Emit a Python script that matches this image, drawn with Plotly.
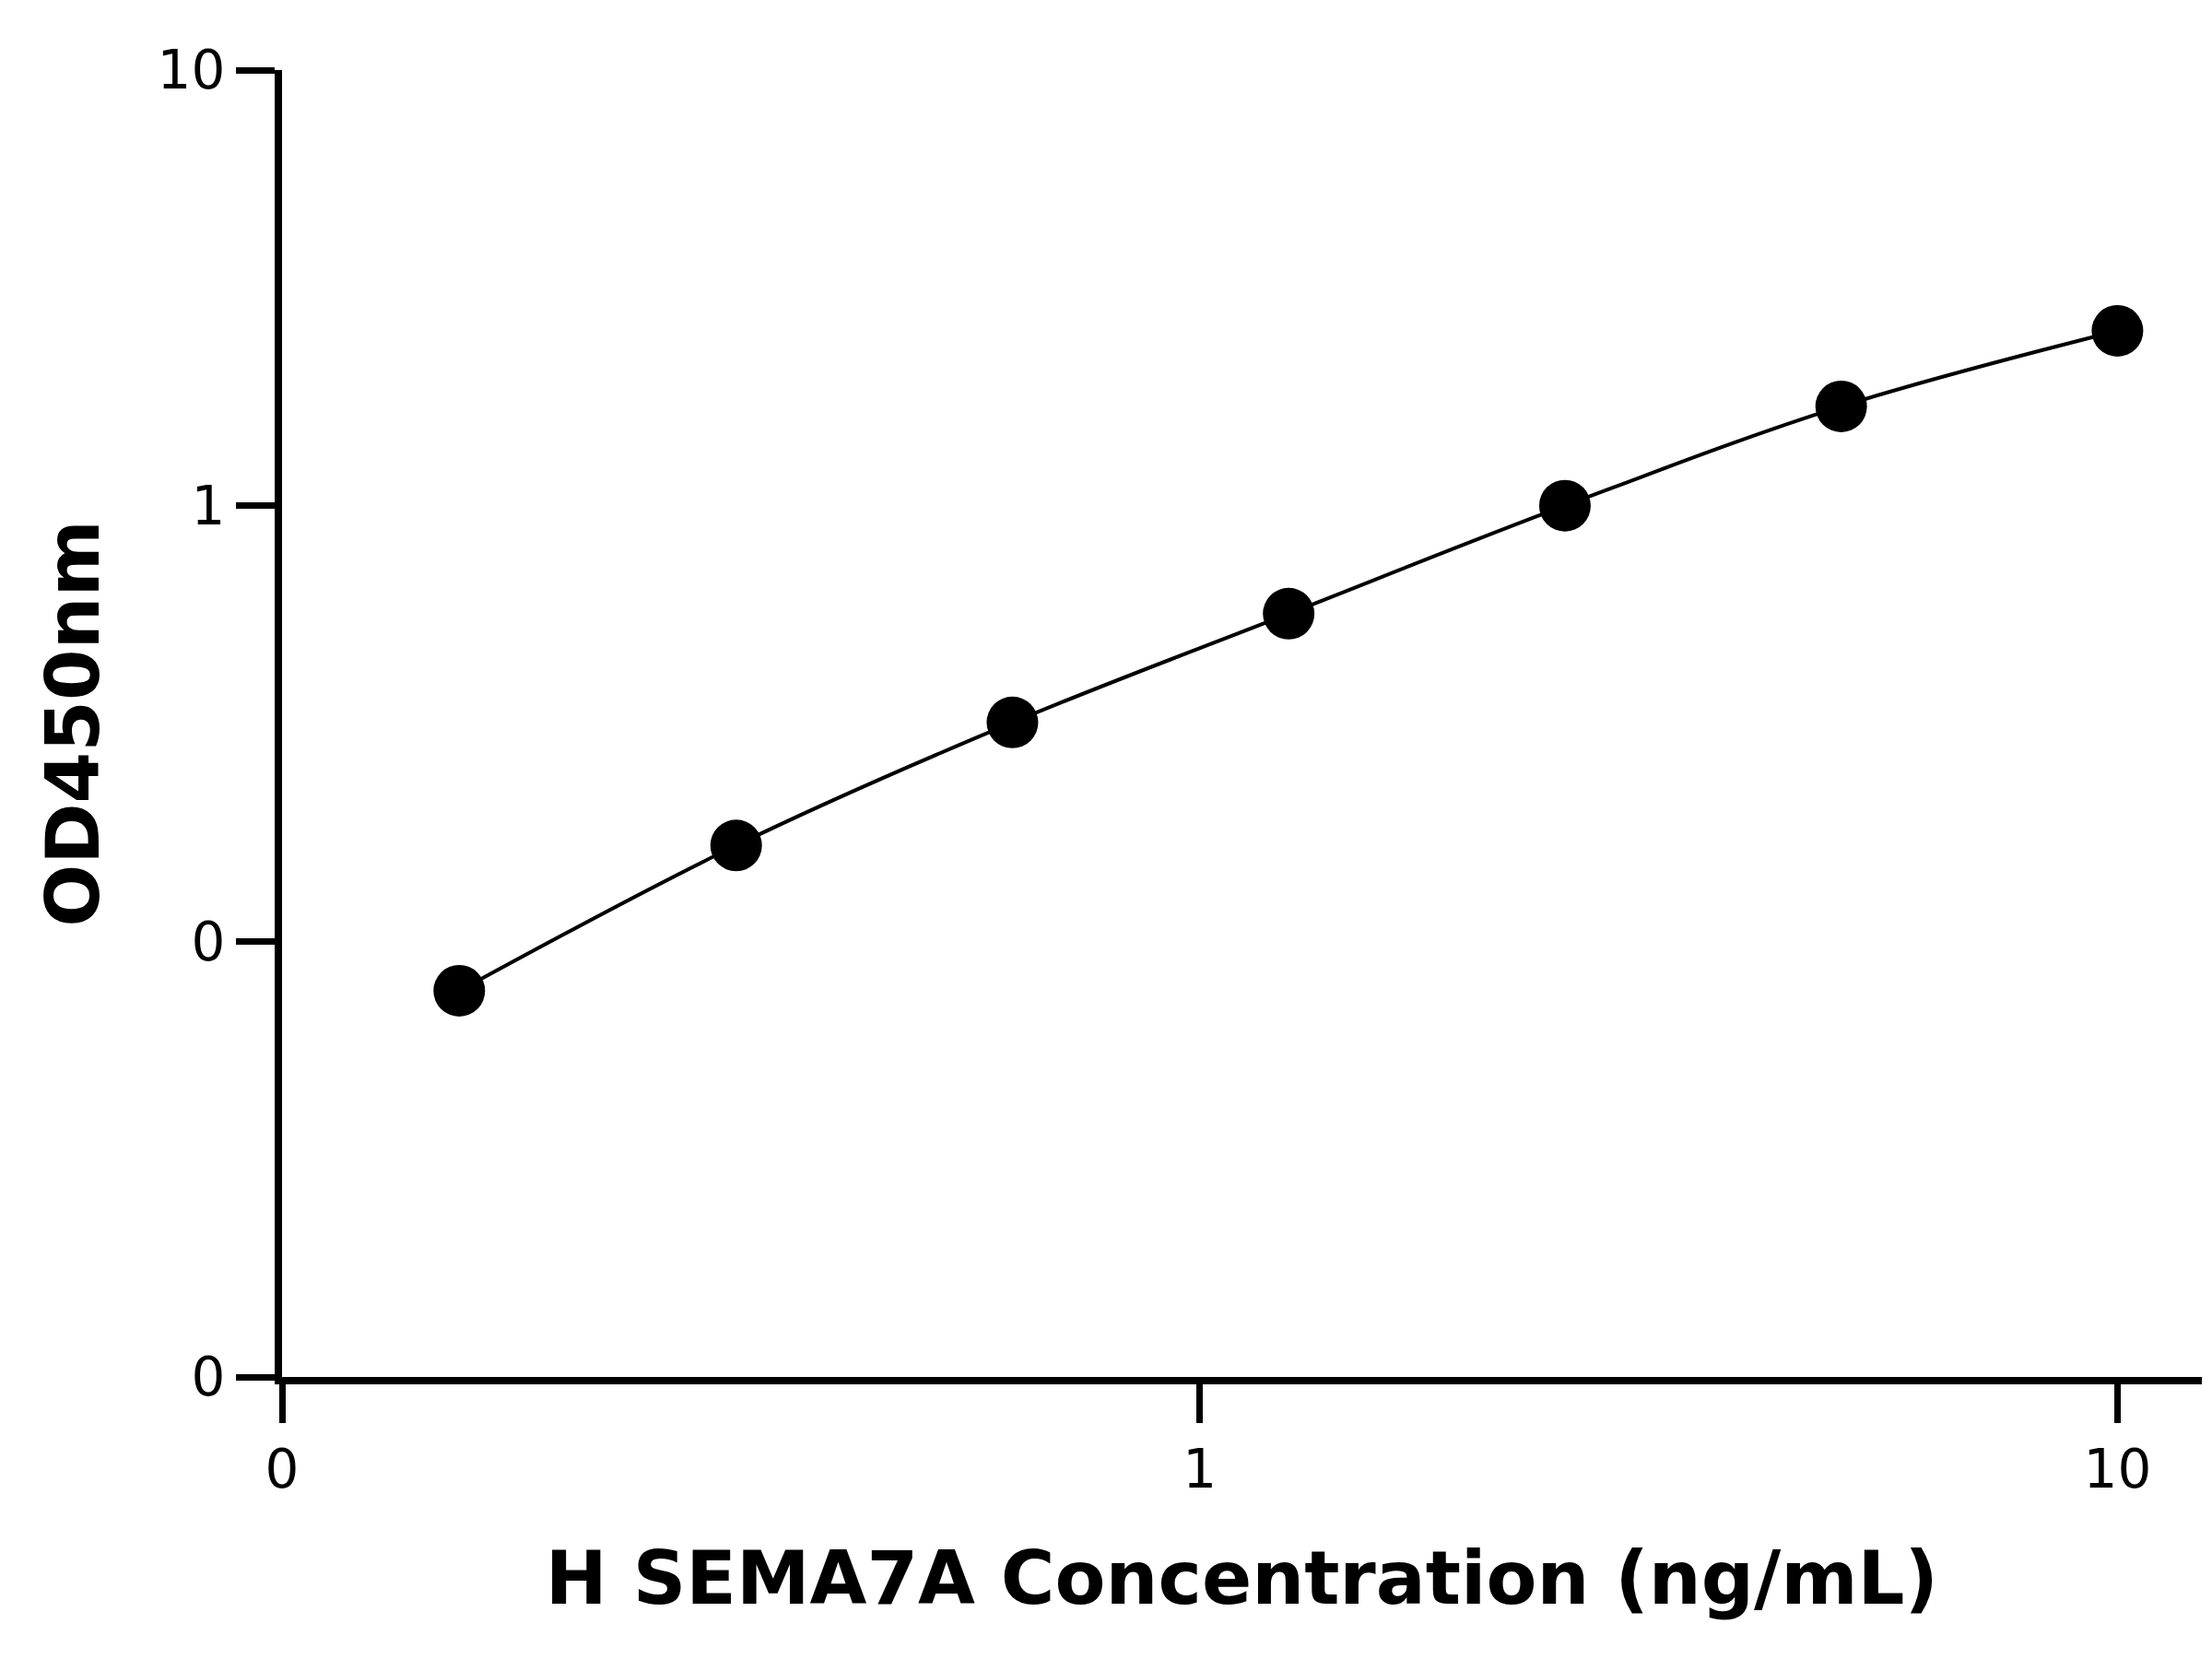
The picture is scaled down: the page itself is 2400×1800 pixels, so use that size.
import plotly.graph_objects as go
import numpy as np

conc = [0.156, 0.3125, 0.625, 1.25, 2.5, 5, 10]
od = [0.077, 0.166, 0.318, 0.565, 1.0, 1.69, 2.52]
xtick_vals = [0.1, 1, 10]
xtick_text = ["0", "1", "10"]
ytick_vals = [0.01, 0.1, 1, 10]
ytick_text = ["0", "0", "1", "10"]

fig = go.Figure()
fig.add_trace(go.Scatter(x=conc, y=od, mode="lines", line=dict(color="black", width=4, shape="spline"), showlegend=False))
fig.add_trace(go.Scatter(x=conc, y=od, mode="markers", marker=dict(color="black", size=56), showlegend=False))

font = dict(family="DejaVu Sans", size=58, color="black")
axcommon = dict(type="log", showline=True, linecolor="black", linewidth=8, ticks="outside",
                ticklen=42, tickwidth=7, tickcolor="black", showgrid=False, zeroline=False,
                tickfont=dict(family="DejaVu Sans", size=58, color="black"))
fig.update_xaxes(**axcommon, range=[-1, 1.092], tickvals=xtick_vals, ticktext=xtick_text,
                 title=dict(text="<b>H SEMA7A Concentration (ng/mL)</b>", font=dict(family="DejaVu Sans", size=80, color="black"), standoff=60))
fig.update_yaxes(**axcommon, range=[-2, 1], tickvals=ytick_vals, ticktext=ytick_text,
                 title=dict(text="<b>OD450nm</b>", font=dict(family="DejaVu Sans", size=80, color="black"), standoff=40))
fig.update_layout(width=2400, height=1800, plot_bgcolor="white", paper_bgcolor="white",
                  margin=dict(l=298, r=19, t=68, b=314), font=font)
fig.for_each_xaxis(lambda a: a.update(tickprefix="<b>", ticksuffix="</b>"))
fig.for_each_yaxis(lambda a: a.update(tickprefix="<b>", ticksuffix="</b>"))
fig.write_html("out.html")
